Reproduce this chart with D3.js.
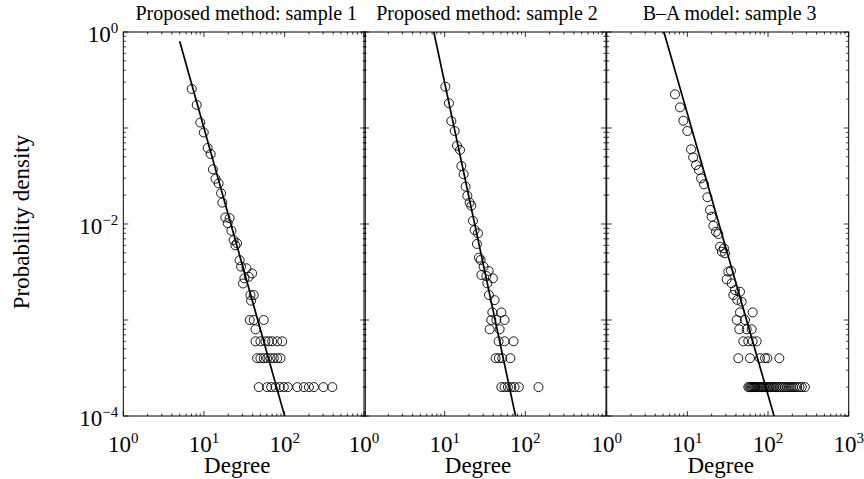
<!DOCTYPE html>
<html>
<head>
<meta charset="utf-8">
<script src="https://cdn.jsdelivr.net/npm/d3@7"></script>
<style>
  body { margin: 0; background: #fff; }
  text { font-family: "Liberation Serif", serif; fill: #000; }
</style>
</head>
<body>
<svg width="864" height="479"></svg>
<script>
const titles = ['Proposed method: sample 1', 'Proposed method: sample 2', 'B\u2013A model: sample 3'];

// panel 1
const deg1 = [7.05, 8.13, 9.0, 9.94, 11.1, 12.1, 12.9, 13.9, 15.2, 16.3, 16.9, 18.4, 20.8, 19.7, 21.9, 23.3, 25.7, 24.5, 27.7, 28.8,
  33.6, 39.5, 31.7, 35.9, 30.5, 37.7, 41.4, 38.4,
  36.9, 41.4, 55.1, 43.5,
  43.5, 50.1, 57.8, 63.6, 70.1, 80.9, 93.4,
  45.6, 50.1, 55.1, 60.8, 66.8, 73.4, 80.9, 88.9,
  47.8, 60.8, 68.1, 77.1, 87.1, 97.7, 109.6, 143.5, 173.4, 200, 230.7, 302, 391];
const dens1 = [0.255, 0.174, 0.114, 0.0898, 0.0619, 0.0536, 0.0371, 0.0296, 0.0265, 0.0209, 0.0167, 0.0117, 0.0115, 0.0102, 0.0085, 0.0068, 0.0063, 0.0060, 0.0042, 0.0036,
  0.00346, 0.00306, 0.00272, 0.00282, 0.0024, 0.00182, 0.00182, 0.00159,
  0.001, 0.001, 0.001, 0.0008,
  0.0006, 0.0006, 0.0006, 0.0006, 0.0006, 0.0006, 0.0006,
  0.0004, 0.0004, 0.0004, 0.0004, 0.0004, 0.0004, 0.0004, 0.0004,
  0.0002, 0.0002, 0.0002, 0.0002, 0.0002, 0.0002, 0.0002, 0.0002, 0.0002, 0.0002, 0.0002, 0.0002, 0.0002];

// panel 2
const deg2 = [10.2, 11.3, 12.1, 13.3, 14.2, 15.5, 16.1, 17.2, 18.2, 19.1, 20.4, 21.4, 22.4, 23.5, 25.9, 25.1, 26.6, 27.9, 30.4, 35.1,
  28.5, 32.9, 39.6, 33.8, 35.4, 41.6, 39.0, 50.4,
  37.9, 43.7, 55.3, 36.1, 48.0, 46.6, 55.3, 71.5, 42.8, 47.0, 51.8, 65.1,
  50.4, 55.3, 60.8, 66.9, 73.5, 83.1, 145.6];
const dens2 = [0.269, 0.181, 0.118, 0.093, 0.0655, 0.059, 0.0402, 0.033, 0.0245, 0.0197, 0.0167, 0.0155, 0.0108, 0.00866, 0.008, 0.0062, 0.00446, 0.00422, 0.00359, 0.00324,
  0.00294, 0.00287, 0.00272, 0.00241, 0.00182, 0.00161, 0.0012, 0.0012,
  0.001, 0.001, 0.001, 0.0008, 0.0008, 0.0006, 0.0006, 0.0006, 0.0004, 0.0004, 0.0004, 0.0004,
  0.0002, 0.0002, 0.0002, 0.0002, 0.0002, 0.0002, 0.0002];

// panel 3
const deg3 = [7.03, 8.11, 8.91, 9.98, 11.1, 11.8, 12.8, 13.9, 14.8, 16.1, 17.7, 19.1, 20.0, 21.0, 22.6, 24.2, 25.4, 28.4, 26.7, 29.3,
  32.2, 34.7, 30.7, 35.4, 38.9, 44.9, 37.1, 41.6, 47.1,
  44.9, 64.5, 40.9, 51.8, 44.0, 54.4, 62.7, 49.3, 56.9, 64.5, 72.3, 42.8, 59.8, 79.5, 91.7, 97.9, 138,
  57, 59, 61, 63, 65, 67, 69, 71, 74, 77, 80, 83, 86, 89, 93, 97, 101, 105, 110, 115,
  120, 126, 132, 139, 146, 154, 162, 171, 181, 192, 204, 216, 230, 245, 262, 287];
const dens3 = [0.2244, 0.164, 0.119, 0.093, 0.060, 0.0495, 0.0412, 0.0365, 0.0299, 0.0259, 0.019, 0.014, 0.0119, 0.0096, 0.0083, 0.00787, 0.0058, 0.00558, 0.00515, 0.00495,
  0.00319, 0.00326, 0.00265, 0.00241, 0.00205, 0.00197, 0.00182, 0.00162, 0.00155,
  0.0012, 0.0012, 0.001, 0.001, 0.0008, 0.0008, 0.0008, 0.0006, 0.0006, 0.0006, 0.0006, 0.0004, 0.0004, 0.0004, 0.0004, 0.0004, 0.0004,
  0.0002, 0.0002, 0.0002, 0.0002, 0.0002, 0.0002, 0.0002, 0.0002, 0.0002, 0.0002, 0.0002, 0.0002, 0.0002, 0.0002, 0.0002, 0.0002, 0.0002, 0.0002, 0.0002, 0.0002,
  0.0002, 0.0002, 0.0002, 0.0002, 0.0002, 0.0002, 0.0002, 0.0002, 0.0002, 0.0002, 0.0002, 0.0002, 0.0002, 0.0002, 0.0002, 0.0002];

// fitted power laws  P = c * k^-s
const fitCoef = [100, 2630, 120];
const fitSlope = [3, 3.95, 2.93];
const fitFrom = [5, 6, 4];
const fitTo = [100, 80, 130];

const xLabelTicks = [1, 10, 100, 1000];
const yLabelTicks = [1, 1e-2, 1e-4];
const yLabelExp = ['0', '\u22122', '\u22124'];
const xLabelExp = ['0', '1', '2', '3'];

const degs = [deg1, deg2, deg3];
const dens = [dens1, dens2, dens3];

const lefts = [123.3, 364, 606.7];
const pw = 242, plotTop = 32, ph = 384;

const svg = d3.select('svg');

const x = d3.scaleLog().domain([1, 1000]).range([0, pw]);
const y = d3.scaleLog().domain([1e-4, 1]).range([ph, 0]);

function isMajor(v) {
  const l = Math.log10(v);
  return Math.abs(l - Math.round(l)) < 1e-6;
}

function pow10(sel, e) {
  sel.append('tspan').text('10');
  sel.append('tspan').attr('dy', -9).attr('font-size', 15).text(e);
}

svg.append('defs').selectAll('clipPath')
  .data(lefts)
  .enter()
  .append('clipPath')
    .attr('id', (d, i) => 'clip' + i)
  .append('rect')
    .attr('width', pw)
    .attr('height', ph);

lefts.forEach((left, i) => {
  const g = svg.append('g')
    .attr('transform', `translate(${left}, ${plotTop})`);

  // ticks, all inward
  const xt = x.ticks();
  const yt = y.ticks();
  const tk = g.append('g').attr('stroke', '#000').attr('stroke-width', 0.8);
  xt.forEach(t => {
    const len = isMajor(t) ? 5 : 2.5;
    tk.append('line').attr('x1', x(t)).attr('x2', x(t)).attr('y1', ph).attr('y2', ph - len);
    tk.append('line').attr('x1', x(t)).attr('x2', x(t)).attr('y1', 0).attr('y2', len);
  });
  yt.forEach(t => {
    const len = isMajor(t) ? 5 : 2.5;
    tk.append('line').attr('y1', y(t)).attr('y2', y(t)).attr('x1', 0).attr('x2', len);
    tk.append('line').attr('y1', y(t)).attr('y2', y(t)).attr('x1', pw).attr('x2', pw - len);
  });

  g.append('rect')
    .attr('width', pw)
    .attr('height', ph)
    .attr('fill', 'none')
    .attr('stroke', '#000')
    .attr('stroke-width', 1);

  // data circles
  const pts = degs[i].map((k, j) => ({k: k, p: dens[i][j]}));
  g.append('g')
    .selectAll('circle')
    .data(pts)
    .enter()
    .append('circle')
      .attr('cx', d => x(d.k))
      .attr('cy', d => y(d.p))
      .attr('r', 4.5)
      .attr('fill', 'none')
      .attr('stroke', '#000')
      .attr('stroke-width', 0.9);

  // fit line
  const fit = [fitFrom[i], fitTo[i]].map(k => [k, fitCoef[i] * Math.pow(k, -fitSlope[i])]);
  g.append('path')
    .datum(fit)
    .attr('clip-path', `url(#clip${i})`)
    .attr('fill', 'none')
    .attr('stroke', '#000')
    .attr('stroke-width', 1.7)
    .attr('d', d3.line().x(d => x(d[0])).y(d => y(d[1])));

  // x tick labels
  const nx = i === 2 ? 4 : 3;
  xLabelTicks.slice(0, nx).forEach((t, j) => {
    g.append('text')
      .attr('x', x(t))
      .attr('y', ph + 36)
      .attr('text-anchor', 'middle')
      .attr('font-size', 23)
      .call(pow10, xLabelExp[j]);
  });

  if (i === 0) {
    yLabelTicks.forEach((t, j) => {
      g.append('text')
        .attr('x', -5)
        .attr('y', y(t) + 10)
        .attr('text-anchor', 'end')
        .attr('font-size', 23)
        .call(pow10, yLabelExp[j]);
    });
  }

  g.append('text')
    .attr('x', pw / 2 + 2)
    .attr('y', -12)
    .attr('text-anchor', 'middle')
    .attr('font-size', 20)
    .text(titles[i]);

  g.append('text')
    .attr('x', pw / 2 - 7)
    .attr('y', ph + 57)
    .attr('text-anchor', 'middle')
    .attr('font-size', 23)
    .text('Degree');
});

svg.append('text')
  .attr('transform', `translate(29, ${plotTop + ph / 2 - 2}) rotate(-90)`)
  .attr('text-anchor', 'middle')
  .attr('font-size', 23)
  .text('Probability density');
</script>
</body>
</html>
